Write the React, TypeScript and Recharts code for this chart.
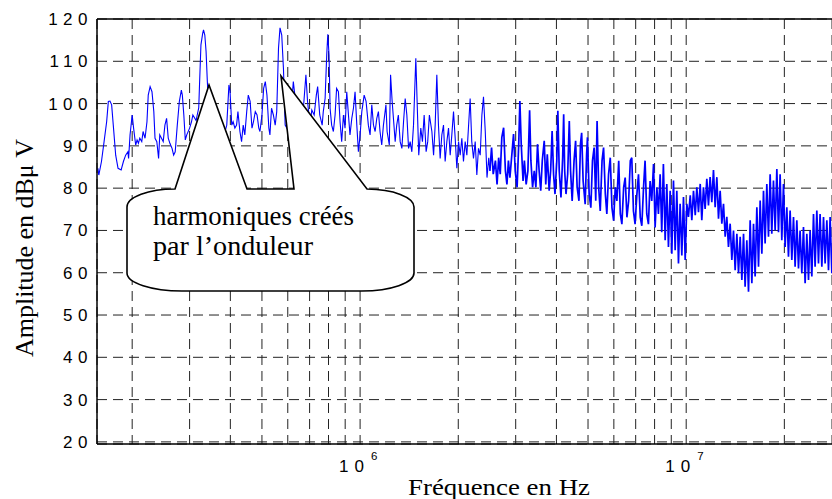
import React from "react";
import { LineChart, Line, XAxis, YAxis, CartesianGrid, ReferenceLine } from "recharts";

// frequency in kHz, amplitude in dBµV
const spectrum150k_1M: [number, number][] = [
  [157, 84.7], [158, 83.1], [161, 86.3], [164, 91.0], [167, 95.7], [169, 100.5], [171, 100.6], [173, 99.7],
  [175, 94.9], [178, 87.8], [181, 84.7], [185, 84.3], [188, 86.3], [191, 87.8], [194, 88.6], [195, 87.0],
  [197, 92.6], [200, 97.3], [202, 94.2], [205, 90.2], [207, 91.4], [209, 90.6], [211, 91.8], [214, 91.0],
  [216, 93.4], [219, 91.8], [222, 95.7], [224, 102.0], [227, 104.0], [230, 102.8], [233, 98.1], [235, 91.8],
  [238, 91.0], [241, 87.0], [243, 92.6], [246, 91.8], [249, 91.0], [252, 94.9], [255, 96.5], [258, 91.8],
  [261, 90.6], [265, 89.4], [268, 87.8], [271, 88.6], [275, 94.9], [279, 100.5], [283, 103.2], [285, 102.0],
  [288, 97.3], [291, 91.4], [294, 92.6], [300, 94.2], [304, 95.7], [307, 97.3], [314, 96.0], [320, 99.0],
  [322, 105.2], [325, 113.9], [329, 116.6], [331, 117.4], [334, 116.2], [337, 112.3], [340, 105.2], [345, 96.0],
  [352, 93.0], [360, 94.0], [368, 92.0], [376, 95.0], [384, 93.0], [390, 94.9], [396, 104.4], [399, 103.0],
  [404, 94.9], [408, 95.7], [413, 94.2], [418, 94.9], [422, 98.1], [428, 93.4], [433, 91.0], [438, 94.9],
  [443, 92.6], [449, 98.1], [454, 102.0], [460, 100.5], [466, 94.2], [471, 95.7], [477, 98.1], [483, 97.3],
  [489, 94.2], [493, 93.4], [500, 97.3], [506, 103.6], [512, 105.2], [518, 102.0], [525, 94.2], [529, 92.6],
  [535, 98.9], [542, 97.3], [549, 94.9], [555, 98.1], [562, 113.1], [568, 117.9], [575, 116.2], [582, 108.3],
  [589, 94.9], [596, 94.2], [605, 96.0], [614, 98.0], [624, 105.2], [639, 98.1], [654, 97.3], [670, 98.9],
  [682, 106.8], [690, 100.5], [702, 94.9], [711, 98.5], [723, 97.3], [734, 102.0], [741, 104.0], [752, 97.3],
  [765, 94.9], [771, 98.1], [781, 101.2], [790, 111.5], [796, 116.4], [803, 111.5], [809, 98.9], [818, 94.9],
  [828, 93.4], [838, 97.3], [847, 103.6], [858, 102.8], [868, 95.7], [878, 91.0], [889, 97.3], [899, 94.2],
  [910, 102.8], [921, 97.3], [931, 92.6], [943, 96.5], [954, 98.9], [965, 102.8], [977, 94.9], [988, 88.6],
];

const spectrum1M_2M5: [number, number][] = [
  [1000, 92.6], [1012, 98.1], [1029, 102.0], [1043, 100.5], [1060, 94.9], [1073, 92.6], [1086, 99.7], [1099, 94.9],
  [1112, 93.4], [1125, 96.5], [1138, 98.1], [1151, 93.4], [1165, 90.2], [1179, 94.9], [1200, 99.7], [1210, 93.4],
  [1229, 90.2], [1240, 106.8], [1254, 100.5], [1281, 91.0], [1295, 94.9], [1310, 97.3], [1327, 91.0], [1343, 89.4],
  [1359, 95.7], [1375, 101.2], [1391, 97.3], [1408, 89.4], [1424, 91.0], [1441, 88.6], [1458, 94.9], [1482, 110.7],
  [1500, 97.3], [1513, 87.8], [1535, 94.2], [1553, 91.0], [1572, 97.3], [1594, 88.6], [1612, 91.0], [1631, 97.3],
  [1660, 93.4], [1680, 87.8], [1699, 94.9], [1719, 106.8], [1739, 94.9], [1760, 87.0], [1781, 92.6], [1802, 94.9],
  [1823, 86.3], [1845, 91.0], [1867, 94.2], [1889, 87.8], [1911, 92.6], [1934, 98.1], [1957, 91.8], [1980, 84.7],
  [2004, 91.0], [2027, 87.8], [2051, 91.8], [2075, 86.3], [2100, 91.0], [2125, 87.8], [2175, 101.2], [2200, 91.0],
  [2227, 87.0], [2254, 91.0], [2280, 83.1], [2307, 89.4], [2335, 87.8], [2363, 97.3], [2390, 101.6], [2420, 93.4],
  [2450, 82.5], [2480, 87.2],
];

const spectrum2M5_8M: [number, number][] = [
  [2500, 84.1], [2530, 89.6], [2560, 83.3], [2600, 86.5], [2630, 80.9], [2660, 87.2], [2690, 83.3], [2720, 92.0],
  [2755, 94.3], [2790, 84.1], [2820, 80.9], [2850, 86.5], [2880, 82.5], [2920, 88.0], [2955, 92.8], [2990, 84.1],
  [3030, 80.2], [3065, 90.4], [3090, 100.6], [3120, 90.4], [3160, 81.7], [3190, 86.5], [3230, 80.9], [3270, 84.1],
  [3310, 98.4], [3340, 86.5], [3380, 80.2], [3420, 84.1], [3460, 80.2], [3500, 90.4], [3540, 84.1], [3580, 79.4],
  [3620, 86.5], [3670, 91.2], [3710, 80.9], [3750, 88.0], [3800, 79.4], [3840, 84.1], [3880, 93.5], [3920, 83.3],
  [3960, 78.6], [4010, 86.5], [4040, 98.3], [4080, 84.1], [4130, 77.8], [4180, 87.2], [4210, 97.5], [4240, 84.1],
  [4280, 78.6], [4330, 83.3], [4380, 95.9], [4420, 84.1], [4470, 77.0], [4530, 86.5], [4580, 91.2], [4630, 80.2],
  [4690, 77.0], [4740, 90.4], [4780, 93.1], [4830, 81.7], [4900, 76.2], [4950, 88.0], [4980, 92.0], [5040, 78.6],
  [5100, 75.4], [5160, 86.5], [5220, 89.6], [5280, 77.0], [5330, 95.9], [5390, 80.2], [5450, 74.6], [5520, 86.5],
  [5580, 89.6], [5650, 78.6], [5710, 73.9], [5780, 83.3], [5850, 87.2], [5920, 75.4], [5990, 72.3], [6060, 80.2],
  [6130, 77.0], [6210, 86.5], [6280, 73.9], [6350, 71.5], [6430, 80.2], [6500, 82.5], [6580, 73.1], [6660, 77.0],
  [6740, 86.5], [6810, 87.2], [6890, 74.6], [6970, 71.5], [7060, 78.6], [7140, 83.3], [7230, 73.1], [7310, 71.1],
  [7400, 80.2], [7480, 86.5], [7570, 73.9], [7660, 71.5], [7750, 81.7], [7840, 77.0], [7940, 85.7], [8030, 70.7],
  [8130, 80.2], [8220, 73.9],
];

const spectrum8M_28M: [number, number][] = [
  [8320, 83.3], [8415, 69.6], [8513, 85.7], [8620, 67.7], [8720, 81.0], [8823, 66.1], [8930, 79.4], [9035, 64.5],
  [9141, 81.8], [9250, 65.3], [9359, 79.4], [9470, 62.2], [9580, 76.3], [9696, 64.1], [9810, 77.9], [9930, 63.0],
  [10044, 76.3], [10162, 73.2], [10290, 78.3], [10406, 72.4], [10529, 79.4], [10660, 73.6], [10780, 80.2], [10907, 74.3],
  [11040, 81.0], [11166, 72.4], [11298, 80.2], [11430, 75.1], [11568, 82.2], [11704, 75.9], [11840, 82.6], [11983, 76.7],
  [12125, 84.3], [12270, 75.5], [12417, 82.6], [12563, 72.8], [12710, 79.4], [12862, 71.6], [13014, 76.3], [13170, 68.5],
  [13322, 73.2], [13480, 66.1], [13640, 71.6], [13804, 63.0], [13967, 70.0], [14130, 60.6], [14302, 69.2], [14471, 59.9],
  [14640, 68.5], [14817, 58.3], [14992, 69.2], [15160, 56.7], [15346, 67.7], [15528, 55.5], [15710, 72.4], [15899, 57.5],
  [16087, 71.6], [16270, 59.1], [16470, 75.5], [16665, 61.4], [16860, 77.1], [17061, 64.5], [17263, 79.4], [17460, 66.9],
  [17672, 81.0], [17881, 68.5], [18090, 83.3], [18303, 69.2], [18520, 81.8], [18740, 70.0], [18967, 84.5], [19191, 69.6],
  [19410, 83.3], [19645, 67.7], [19877, 81.0], [20110, 66.1], [20350, 75.5], [20590, 63.8], [20830, 74.7], [21086, 63.0],
  [21335, 73.2], [21580, 61.4], [21842, 72.4], [22100, 61.0], [22350, 70.0], [22625, 59.9], [22893, 70.8], [23160, 57.5],
  [23442, 69.2], [23719, 58.3], [23990, 70.0], [24284, 59.1], [24571, 73.9], [24850, 61.4], [25155, 74.7], [25452, 62.2],
  [25740, 73.9], [26062, 61.4], [26370, 73.2], [26670, 62.2], [27000, 72.4], [27319, 60.6], [27630, 73.2], [27972, 59.9],
];

// log grid: 2..9 x 100 kHz, 1..9 MHz, 10 and 20 MHz
const gridFreqs = [200, 300, 400, 500, 600, 700, 800, 900, 1000, 2000, 3000, 4000, 5000, 6000, 7000, 8000, 9000, 10000, 20000];
const levelTicks = [20, 30, 40, 50, 60, 70, 80, 90, 100, 110, 120];
const decadeLabels: Record<number, string> = { 1000: "6", 10000: "7" };

const toPoints = (rows: [number, number][]) => rows.map(([f, db]) => ({ f, db }));
// the low part is a thin trace, the dense high part reads as a thick band
const lowData = toPoints([...spectrum150k_1M, ...spectrum1M_2M5, [2500, 84.1]]);
const highData = toPoints([...spectrum2M5_8M, ...spectrum8M_28M]);

const sansFont = "'Liberation Sans', Arial, sans-serif";
const serifFont = "'Liberation Serif', 'Times New Roman', serif";

function LevelTick({ x, y, payload }: any) {
  return (
    <text x={x} y={y} dy={6} textAnchor="end" fontFamily={sansFont} fontSize={17} letterSpacing={5.5} fill="#000">
      {payload.value}
    </text>
  );
}

function FreqTick({ x, y, payload }: any) {
  const exp = decadeLabels[payload.value];
  if (!exp) return <g />;
  return (
    <g>
      <text x={x - 21} y={y + 28} fontFamily={sansFont} fontSize={17} letterSpacing={6} fill="#000">10</text>
      <text x={x + 11} y={y + 16} fontFamily={sansFont} fontSize={11.5} fill="#000">{exp}</text>
    </g>
  );
}

export default function App() {
  return (
    <div style={{ position: "absolute", left: 0, top: 0, width: 832, height: 499, background: "#fff" }}>
      <LineChart width={832} height={499} margin={{ top: 19, right: 0, bottom: 0, left: 0 }}>
        <CartesianGrid stroke="#222" strokeDasharray="10 6" />
        <XAxis
          dataKey="f"
          type="number"
          scale="log"
          domain={[156, 28000]}
          allowDataOverflow
          ticks={gridFreqs}
          interval={0}
          height={55}
          tickSize={0}
          tickMargin={0}
          tick={<FreqTick />}
          axisLine={{ stroke: "#000", strokeWidth: 1.5 }}
        />
        <YAxis
          type="number"
          domain={[19.5, 120]}
          allowDataOverflow
          ticks={levelTicks}
          interval={0}
          width={97}
          tickSize={0}
          tickMargin={4}
          tick={<LevelTick />}
          axisLine={{ stroke: "#000", strokeWidth: 1.5 }}
        />
        <ReferenceLine y={120} stroke="#000" strokeWidth={1.5} />
        <Line data={lowData} dataKey="db" type="linear" stroke="#0000ff" strokeWidth={1.1} dot={false} isAnimationActive={false} />
        <Line data={highData} dataKey="db" type="linear" stroke="#0000ff" strokeWidth={1.7} dot={false} isAnimationActive={false} />
      </LineChart>

      {/* annotation + axis titles drawn over the plot */}
      <svg width={832} height={499} style={{ position: "absolute", left: 0, top: 0, pointerEvents: "none" }}>
        <path
          d="M 175 189 L 209 85 L 247 189 L 294 189 L 281 76 L 367 189 A 48 18 0 0 1 414 207 L 414 273 A 52 18 0 0 1 362 291 L 182 291 A 55 18 0 0 1 127 273 L 127 207 A 48 18 0 0 1 175 189 Z"
          fill="#fff"
          stroke="#000"
          strokeWidth={1.6}
          strokeLinejoin="miter"
        />
        <text x={153} y={225} fontFamily={serifFont} fontSize={27} textLength={201} lengthAdjust="spacingAndGlyphs" fill="#000">
          harmoniques créés
        </text>
        <text x={153} y={255} fontFamily={serifFont} fontSize={27} textLength={160} lengthAdjust="spacingAndGlyphs" fill="#000">
          par l’onduleur
        </text>
        <text x={408} y={495} fontFamily={serifFont} fontSize={23} textLength={182} lengthAdjust="spacingAndGlyphs" fill="#000">
          Fréquence en Hz
        </text>
        <text
          x={0}
          y={0}
          transform="translate(33 248) rotate(-90)"
          textAnchor="middle"
          fontFamily={serifFont}
          fontSize={26}
          textLength={218}
          lengthAdjust="spacingAndGlyphs"
          fill="#000"
        >
          Amplitude en dBμ V
        </text>
      </svg>
    </div>
  );
}
